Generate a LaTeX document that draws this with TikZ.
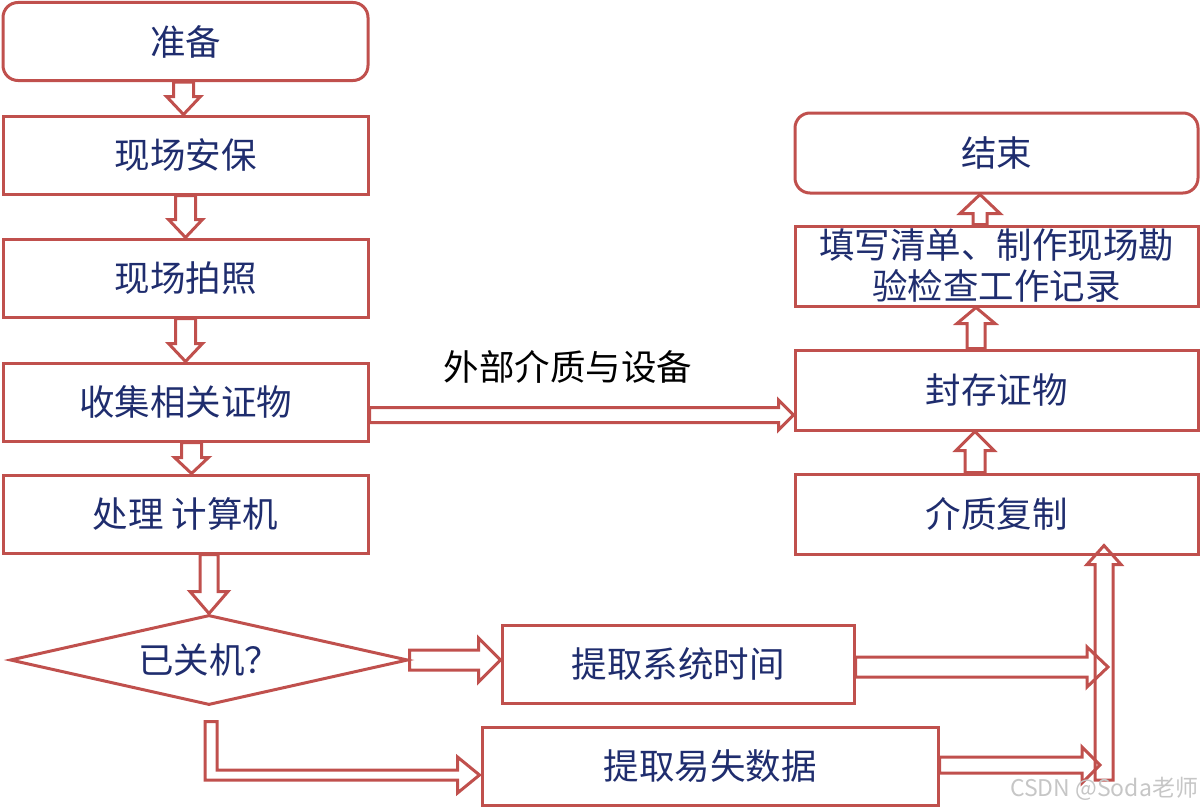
\documentclass[tikz,border=0pt]{standalone}
\usepackage{fontspec}
\usetikzlibrary{shapes.geometric,calc}
\newfontfamily\cjk{Noto Sans CJK SC}
\definecolor{boxred}{RGB}{192,80,77}
\definecolor{navy}{RGB}{31,45,110}
% hollow block arrow: from, to, body half width, head half width, head length
\newcommand{\blockarrow}[5]{%
  \path (#1) coordinate (ba) (#2) coordinate (bt);
  \path ($(bt)!#5!(ba)$) coordinate (bh);
  \draw[blk] ($(ba)!#3!90:(bt)$) -- ($(bh)!#3!90:(bt)$) -- ($(bh)!#4!90:(bt)$) -- (bt)
    -- ($(bh)!#4!-90:(bt)$) -- ($(bh)!#3!-90:(bt)$) -- ($(ba)!#3!-90:(bt)$) -- cycle;}
\tikzset{
  flowbox/.style={draw=boxred, line width=3pt, minimum width=365pt, minimum height=78pt,
    inner sep=2pt, align=center, text=navy, font=\cjk\fontsize{35.5}{41}\selectfont},
  rightbox/.style={flowbox, minimum width=403pt, minimum height=80pt},
  endbox/.style={rightbox, rounded corners=15pt},
  decision/.style={flowbox, diamond, aspect=4.4, minimum width=398pt, minimum height=90pt, inner sep=0pt},
  blk/.style={draw=boxred, line width=3pt},
  note/.style={text=black, font=\cjk\fontsize{35.5}{41}\selectfont}
}
\begin{document}
\begin{tikzpicture}[x=1pt,y=1pt]
  \useasboundingbox (0,0) rectangle (1201,-808);
  % left column
  \node[flowbox, rounded corners=15pt] (prep) at (185.5,-41.5) {准备};
  \node[flowbox] (guard) at (185.5,-155) {现场安保};
  \node[flowbox] (photo) at (185.5,-278) {现场拍照};
  \node[flowbox] (gather) at (185.5,-402) {收集相关证物};
  \node[flowbox] (proc) at (185.5,-514) {处理 计算机};
  \node[decision] (dia) at (209,-660) {已关机？};
  % bottom row
  \node[flowbox, minimum width=352pt] (sys) at (678,-664) {提取系统时间};
  \node[flowbox, minimum width=456pt] (vol) at (710,-766) {提取易失数据};
  % right column
  \node[endbox] (end) at (996.5,-153) {结束};
  \node[rightbox] (fill) at (996.5,-266) {填写清单、制作现场勘\\验检查工作记录};
  \node[rightbox] (seal) at (996.5,-390) {封存证物};
  \node[rightbox] (copy) at (996.5,-514) {介质复制};
  \node[note] (ext) at (568,-367) {外部介质与设备};

  \coordinate (collect) at (1104,-780);
  \coordinate (in1) at (1108,-667);
  \coordinate (in2) at (1100,-765);

  \blockarrow{[xshift=-2pt]prep.south}{[xshift=-2pt]guard.north}{10pt}{17pt}{18pt}
  \blockarrow{guard.south}{photo.north}{10pt}{17pt}{18pt}
  \blockarrow{photo.south}{gather.north}{10pt}{17pt}{18pt}
  \blockarrow{[xshift=6pt]gather.south}{[xshift=6pt]proc.north}{10pt}{17pt}{16pt}
  \blockarrow{proc.south -| dia.north}{dia.north}{9pt}{19pt}{22pt}
  \blockarrow{dia.east}{[yshift=4pt]sys.west}{10pt}{22pt}{22pt}
  \draw[blk] let \p1=([xshift=2pt,yshift=-15pt]dia.south), \p2=([xshift=-1pt,yshift=-9pt]vol.west) in
    (\x1-6pt,\y1) -- (\x1-6pt,\y2-5pt) -- (\x2-22pt,\y2-5pt) -- (\x2-22pt,\y2-18pt) -- (\x2,\y2)
    -- (\x2-22pt,\y2+18pt) -- (\x2-22pt,\y2+5pt) -- (\x1+6pt,\y2+5pt) -- (\x1+6pt,\y1) -- cycle;
  \blockarrow{[yshift=-13pt]gather.east}{[yshift=-25pt]seal.west}{7.5pt}{15pt}{15pt}
  \blockarrow{[yshift=-3pt]sys.east}{in1}{10pt}{20pt}{21pt}
  \blockarrow{[yshift=1pt]vol.east}{in2}{8pt}{18pt}{18pt}
  \blockarrow{collect}{[xshift=107.5pt,yshift=10pt]copy.south}{9pt}{17pt}{19pt}
  \blockarrow{[xshift=-21.5pt]copy.north}{[xshift=-21.5pt]seal.south}{10pt}{19pt}{19pt}
  \blockarrow{[xshift=-20.5pt]seal.north}{[xshift=-20.5pt]fill.south}{9pt}{19pt}{16pt}
  \blockarrow{[xshift=-16.5pt]fill.north}{[xshift=-16.5pt]end.south}{7pt}{20pt}{19pt}

  \node[text=gray!45, font=\cjk\fontsize{23}{23}\selectfont] (mark) at (1104,-789) {CSDN @Soda老师};
\end{tikzpicture}
\end{document}
